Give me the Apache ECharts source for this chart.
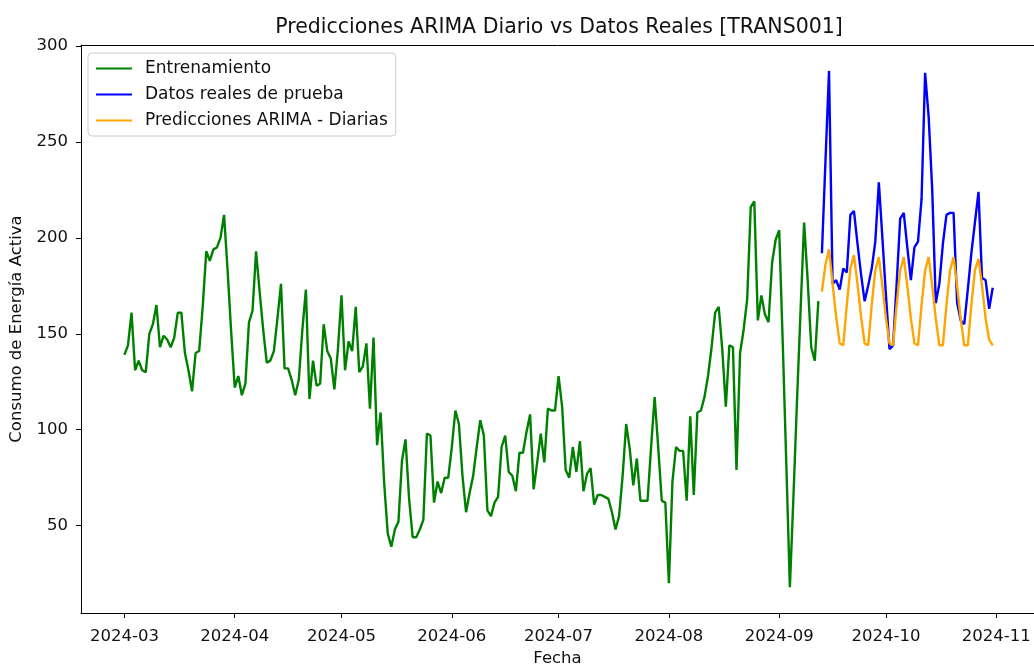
<!DOCTYPE html>
<html>
<head>
<meta charset="utf-8">
<title>Predicciones ARIMA Diario vs Datos Reales</title>
<script src="https://cdn.jsdelivr.net/npm/echarts@6/dist/echarts.min.js"></script>
<style>
  html, body { margin: 0; padding: 0; background: #fff; overflow: hidden; }
  #grafico { width: 1034px; height: 666px; }
</style>
</head>
<body>
<div id="grafico"></div>
<script>
// valores (consumo diario)
var inicioEntrenamiento = '2024-03-01';
var inicioPrueba = '2024-09-13';

var entrenamiento = [
    139, 144, 161, 131, 136, 131, 130, 150, 155, 165,
    143, 149, 147, 143, 148, 161, 161, 140, 131, 120,
    140, 141, 164, 193, 188, 194, 195, 200, 212, 183,
    151, 122, 128, 118, 124, 156, 162, 193, 172, 152,
    135, 136, 141, 158, 176, 132, 132, 126, 118, 126,
    152, 173, 116, 136, 123, 124, 155, 141, 137, 121,
    142, 170, 131, 146, 141, 164, 130, 133, 145, 111,
    148, 92, 109, 72, 46, 39, 48, 52, 84, 95,
    64, 44, 44, 48, 53, 98, 97, 62, 73, 67,
    75, 75, 91, 110, 103, 76, 57, 67, 76, 91,
    105, 97, 58, 55, 62, 65, 91, 97, 78, 76,
    68, 88, 88, 99, 108, 69, 83, 98, 83, 111,
    110, 110, 128, 112, 79, 75, 91, 78, 94, 68,
    77, 80, 61, 66, 66, 65, 64, 57, 48, 55,
    76, 103, 90, 71, 85, 63, 63, 63, 91, 117,
    91, 63, 62, 20, 73, 91, 89, 89, 63, 107,
    66, 109, 110, 117, 128, 143, 161, 164, 142, 112,
    144, 143, 79, 140, 152, 168, 216, 219, 157, 170,
    160, 156, 187, 199, 204, 145, 82, 18, 65, 115,
    162, 208, 178, 143, 136, 167
];

var realesPrueba = [
    192, 240, 287, 176, 178, 173, 184, 182, 212, 214,
    197, 181, 167, 175, 184, 198, 229, 200, 170, 142,
    144, 176, 210, 213, 195, 178, 195, 198, 220, 286,
    263, 225, 166, 176, 197, 212, 213, 213, 166, 157,
    155, 173, 192, 208, 224, 179, 178, 163, 174
];

var prediccionesArima = [
    172, 186, 194, 176, 159, 145, 144, 165, 184, 191,
    176, 159, 145, 144, 165, 183, 190, 175, 158, 145,
    144, 165, 183, 190, 175, 158, 145, 144, 165, 183,
    190, 175, 158, 144, 144, 165, 183, 190, 175, 158,
    144, 144, 165, 183, 189, 175, 158, 147, 144
];

var marcasMes = ['2024-03', '2024-04', '2024-05', '2024-06', '2024-07',
                 '2024-08', '2024-09', '2024-10', '2024-11'];
var marcasY = [50, 100, 150, 200, 250, 300];

var DIA = 24 * 3600 * 1000;

function fechaLocal(txt) {
    var p = txt.split('-');
    return new Date(+p[0], +p[1] - 1, p[2] ? +p[2] : 1).getTime();
}

// une fechas diarias con los valores
function serieDiaria(inicio, valores) {
    var p = inicio.split('-');
    return valores.map(function (v, i) {
        return [new Date(+p[0], +p[1] - 1, +p[2] + i).getTime(), v];
    });
}

var datosEntrenamiento = serieDiaria(inicioEntrenamiento, entrenamiento);
var datosPrueba = serieDiaria(inicioPrueba, realesPrueba);
var datosPred = serieDiaria(inicioPrueba, prediccionesArima);

var x0 = fechaLocal(inicioEntrenamiento);
var fuente = 'DejaVu Sans';
var ticksX = marcasMes.map(fechaLocal);
var xMin = x0 - 12.2 * DIA;
var xMax = x0 + 255.6 * DIA;  // el borde derecho queda fuera de la imagen

var myChart = echarts.init(document.getElementById('grafico'));

var option = {
    animation: false,
    backgroundColor: '#fff',
    graphic: [{
        type: 'text',
        x: 559,
        y: 28,
        style: {
            text: 'Predicciones ARIMA Diario vs Datos Reales [TRANS001]',
            font: '20.5px "DejaVu Sans"',
            fill: '#111',
            textAlign: 'center',
            textVerticalAlign: 'middle'
        }
    }],
    legend: {
        orient: 'vertical',
        left: 88,
        top: 53,
        padding: [6, 8, 6, 8],
        itemGap: 7,
        itemWidth: 36,
        itemHeight: 2,
        icon: 'rect',
        backgroundColor: 'rgba(255,255,255,0.8)',
        borderColor: '#cccccc',
        borderWidth: 1,
        borderRadius: 4,
        textStyle: {
            fontFamily: fuente,
            fontSize: 17,
            lineHeight: 19,
            color: '#111',
            padding: [0, 0, 0, 8]
        },
        data: ['Entrenamiento', 'Datos reales de prueba', 'Predicciones ARIMA - Diarias']
    },
    grid: {
        left: 81,
        right: 0,
        top: 45,
        bottom: 53,
        outerBoundsMode: 'none',
        containLabel: false
    },
    xAxis: [{
        type: 'value',
        min: xMin,
        max: xMax,
        name: 'Fecha',
        nameLocation: 'middle',
        nameGap: 37,
        nameTextStyle: { fontFamily: fuente, fontSize: 16.5, color: '#111' },
        axisLine: { lineStyle: { color: '#000', width: 1 } },
        axisTick: {
            length: 5,
            lineStyle: { color: '#000' },
            customValues: ticksX
        },
        axisLabel: {
            fontFamily: fuente,
            fontSize: 16.5,
            color: '#111',
            margin: 15,
            customValues: ticksX,
            formatter: function (val) {
                var d = new Date(val);
                var m = d.getMonth() + 1;
                return d.getFullYear() + '-' + (m < 10 ? '0' + m : m);
            }
        },
        splitLine: { show: false }
    }, {
        // solo el borde superior del area
        type: 'value',
        position: 'top',
        min: xMin,
        max: xMax,
        axisLine: { show: true, lineStyle: { color: '#000', width: 1 } },
        axisTick: { show: false },
        axisLabel: { show: false },
        splitLine: { show: false }
    }],
    yAxis: {
        type: 'value',
        min: 4.5,
        max: 300.5,
        name: 'Consumo de Energía Activa',
        nameLocation: 'middle',
        nameGap: 54,
        nameTextStyle: { fontFamily: fuente, fontSize: 16.5, color: '#111' },
        axisLine: { show: true, lineStyle: { color: '#000', width: 1 } },
        axisTick: {
            show: true,
            length: 5,
            lineStyle: { color: '#000' },
            customValues: marcasY
        },
        axisLabel: {
            fontFamily: fuente,
            fontSize: 16.5,
            color: '#111',
            margin: 13,
            customValues: marcasY
        },
        splitLine: { show: false }
    },
    series: [
        {
            name: 'Entrenamiento',
            type: 'line',
            data: datosEntrenamiento,
            showSymbol: false,
            symbol: 'none',
            color: '#008000',
            lineStyle: { color: '#008000', width: 2.4 }
        },
        {
            name: 'Datos reales de prueba',
            type: 'line',
            data: datosPrueba,
            showSymbol: false,
            symbol: 'none',
            color: '#0000ff',
            lineStyle: { color: '#0000ff', width: 2.4 }
        },
        {
            name: 'Predicciones ARIMA - Diarias',
            type: 'line',
            data: datosPred,
            showSymbol: false,
            symbol: 'none',
            color: '#ffa500',
            lineStyle: { color: '#ffa500', width: 2.4 }
        }
    ]
};

myChart.setOption(option);
</script>
</body>
</html>
